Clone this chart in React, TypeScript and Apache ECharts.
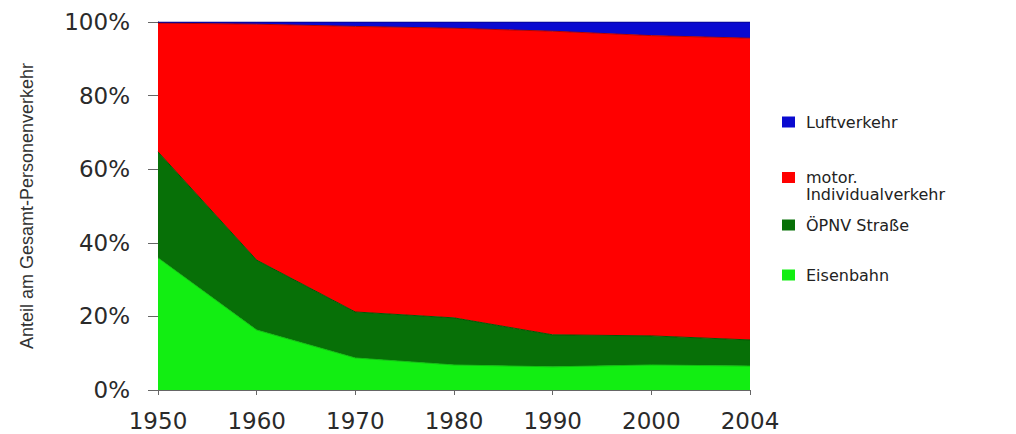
import React, { useEffect, useRef } from "react";
import * as echarts from "echarts";

const years = ["1950", "1960", "1970", "1980", "1990", "2000", "2004"];
const eisenbahn = [35.9, 16.3, 8.7, 6.8, 6.3, 6.8, 6.5];
const oepnv = [28.8, 19.0, 12.5, 12.8, 8.7, 7.9, 7.1];
const motor = [35.0, 64.1, 77.6, 78.7, 82.5, 81.6, 82.0];
const luft = [0.3, 0.6, 1.2, 1.7, 2.5, 3.7, 4.4];

const names = {
  luft: "Luftverkehr",
  motor: "motor.\nIndividualverkehr",
  oepnv: "ÖPNV Straße",
  bahn: "Eisenbahn",
};

const colors = {
  luft: "#0a0ad0",
  motor: "#ff0000",
  oepnv: "#077007",
  bahn: "#12ee12",
};

export default function App() {
  const ref = useRef<HTMLDivElement>(null);
  useEffect(() => {
    if (!ref.current) return;
    const chart = echarts.init(ref.current, undefined, { renderer: "svg" });
    const legendText = {
      fontFamily: "DejaVu Sans",
      fontSize: 16,
      color: "#222",
      lineHeight: 18,
      padding: [0, 0, 0, 6],
    };
    const legendBase = {
      orient: "vertical",
      left: 782,
      padding: 0,
      itemWidth: 13,
      itemHeight: 11,
      icon: "rect",
      selectedMode: false,
      textStyle: legendText,
    };
    const area = (name: string, data: number[], color: string, line: string) => ({
      name,
      type: "line",
      stack: "total",
      data,
      symbol: "none",
      smooth: false,
      lineStyle: { width: 1, color: line },
      areaStyle: { color, opacity: 1 },
      itemStyle: { color },
    });
    chart.setOption({
      animation: false,
      backgroundColor: "#ffffff",
      legend: [
        { ...legendBase, top: 113, data: [names.luft] },
        {
          ...legendBase,
          top: 152,
          data: [names.motor],
          formatter: (n: string) => "\n" + n,
          textStyle: { ...legendText, lineHeight: 17 },
        },
        { ...legendBase, top: 216, data: [names.oepnv] },
        { ...legendBase, top: 266, data: [names.bahn] },
      ],
      grid: { left: 158, right: 266, top: 22, bottom: 44, containLabel: false },
      xAxis: {
        type: "category",
        data: years,
        boundaryGap: false,
        axisLine: { show: true, lineStyle: { color: "#666", width: 1 } },
        axisTick: { show: true, inside: false, length: 5, lineStyle: { color: "#666" } },
        axisLabel: {
          fontFamily: "DejaVu Sans",
          fontSize: 23,
          color: "#2a2a2a",
          margin: 19,
        },
      },
      yAxis: {
        type: "value",
        min: 0,
        max: 100,
        interval: 20,
        name: "Anteil am Gesamt-Personenverkehr",
        nameLocation: "middle",
        nameRotate: 90,
        nameGap: 122,
        nameTextStyle: {
          fontFamily: "Liberation Sans",
          fontSize: 18,
          color: "#333",
        },
        axisLine: { show: true, lineStyle: { color: "#333", width: 1 } },
        axisTick: { show: true, length: 10, lineStyle: { color: "#666" } },
        splitLine: { show: false },
        axisLabel: {
          formatter: "{value}%",
          fontFamily: "DejaVu Sans",
          fontSize: 23,
          color: "#2a2a2a",
          margin: 28,
        },
      },
      series: [
        area(names.bahn, eisenbahn, colors.bahn, "#10c010"),
        area(names.oepnv, oepnv, colors.oepnv, "#055505"),
        area(names.motor, motor, colors.motor, "#b00000"),
        area(names.luft, luft, colors.luft, "#000080"),
      ],
    });
    return () => chart.dispose();
  }, []);
  return (
    <div style={{ position: "fixed", left: 0, top: 0, width: 1016, height: 434, background: "#fff" }}>
      <div ref={ref} style={{ width: 1016, height: 434 }} />
    </div>
  );
}
